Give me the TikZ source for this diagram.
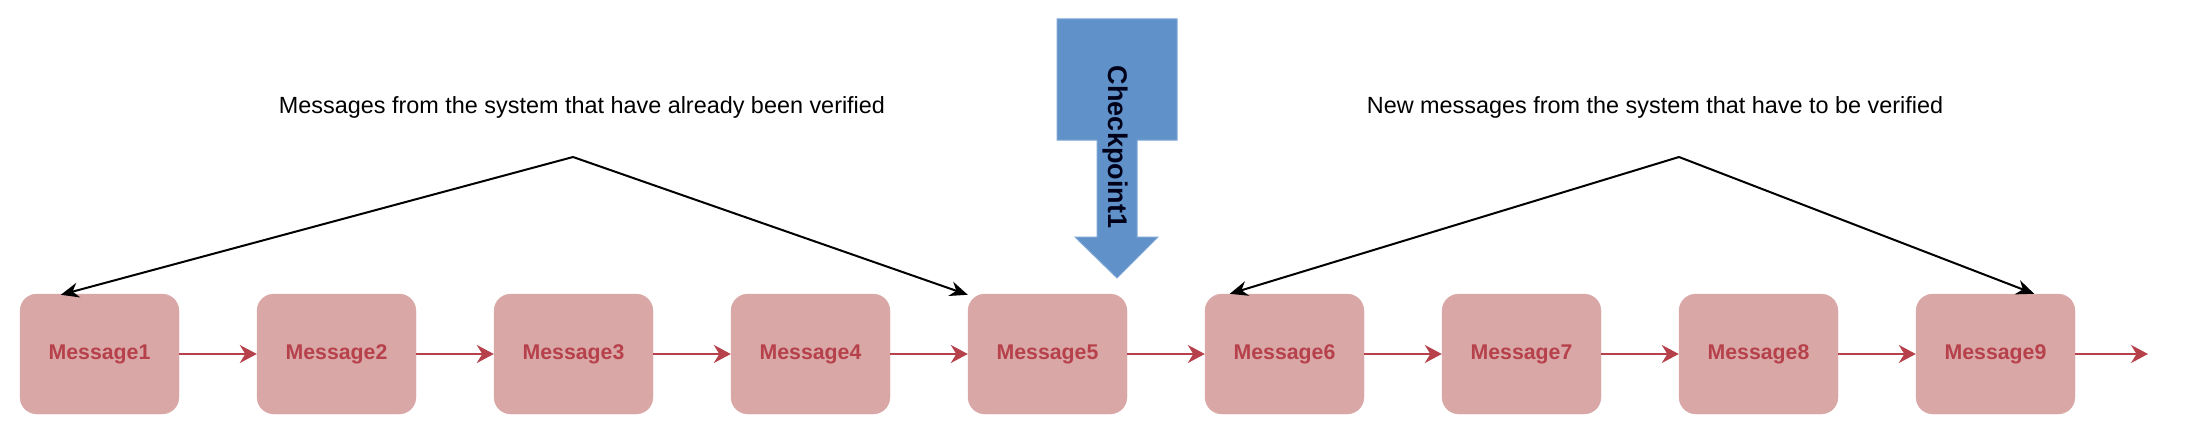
\documentclass[tikz,border=0pt]{standalone}
\usepackage{xcolor}
\usepackage{tikz}
\usepackage{fontspec}
\setmainfont{Liberation Sans}
\usetikzlibrary{arrows.meta, positioning, calc}
\definecolor{msgfill}{RGB}{218, 167, 167}
\definecolor{msgtext}{RGB}{182, 65, 75}
\definecolor{checkblue}{RGB}{96, 146, 201}
\definecolor{checkedge}{RGB}{126, 166, 214}

\begin{document}
\begin{tikzpicture}[
    x=1pt, y=-1pt,
    msg/.style={rectangle, rounded corners=17pt, minimum width=159pt, minimum height=120pt, inner sep=0pt, fill=msgfill, draw=msgfill, text=msgtext, font=\fontsize{21.3}{25}\selectfont\bfseries},
    flow/.style={draw=msgtext, line width=2.2pt, -{Stealth[length=17pt, width=18pt]}},
    pointer/.style={draw=black, line width=2pt, -{Stealth[length=18pt, width=15pt]}},
    label/.style={font=\fontsize{23.4}{28}\selectfont, text=black, inner sep=0pt}
]
    \useasboundingbox (0, 0) rectangle (2188, 436);

    % Message chain
    \foreach \i in {1,...,9}
        \node[msg] (m\i) at ({99.5 + 237*(\i-1)}, 354) {Message\i};
    \foreach \i/\j in {1/2, 2/3, 3/4, 4/5, 5/6, 6/7, 7/8, 8/9}
        \draw[flow] (m\i) -- (m\j);
    \coordinate (tail) at (2148, 354);
    \draw[flow] (m9) -- (tail);

    % Verified messages
    \node[label] (lblA) at (582, 107) {Messages from the system that have already been verified};
    \coordinate (apexA) at (573, 157);
    \draw[pointer] (apexA) -- ([xshift=41pt, yshift=-1pt]m1.north west);
    \draw[pointer] (apexA) -- ([yshift=-1pt]m5.north west);

    % Messages to be verified
    \node[label] (lblB) at (1655, 107) {New messages from the system that have to be verified};
    \coordinate (apexB) at (1679, 157);
    \draw[pointer] (apexB) -- ([xshift=25pt]m6.north west);
    \draw[pointer] (apexB) -- ([xshift=-41pt]m9.north east);

    % Checkpoint
    \fill[checkblue, draw=checkedge, line width=1pt] (1057, 19) -- (1177, 19) -- (1177, 140) -- (1137, 140) -- (1137, 237) -- (1158, 237) -- (1117, 278) -- (1075, 237) -- (1097, 237) -- (1097, 140) -- (1057, 140) -- cycle;
    \node[rotate=-90, font=\fontsize{27}{32}\selectfont\bfseries, text=black!90!blue, inner sep=0pt] (cp) at (1115, 147) {Checkpoint1};
\end{tikzpicture}
\end{document}
